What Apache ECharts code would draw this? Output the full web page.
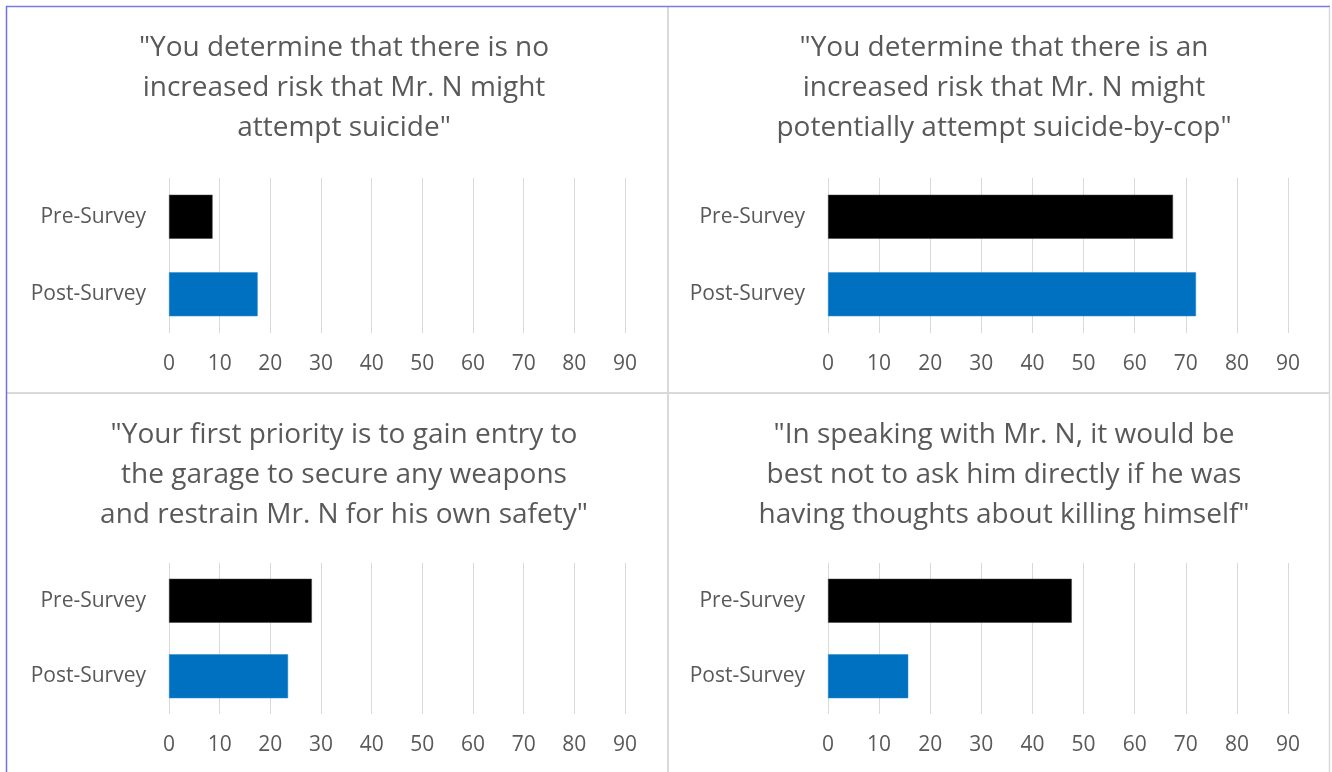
<!DOCTYPE html>
<html>
<head>
<meta charset="utf-8">
<script src="https://cdn.jsdelivr.net/npm/echarts@6/dist/echarts.min.js"></script>
<style>
html,body{margin:0;padding:0;background:#fff;}
#c{width:1332px;height:772px;}
</style>
</head>
<body>
<div id="c"></div>
<script>
const categories = ["Pre-Survey", "Post-Survey"];
const titles = [
  "\"You determine that there is no\nincreased risk that Mr. N might\nattempt suicide\"",
  "\"You determine that there is an\nincreased risk that Mr. N might\npotentially attempt suicide-by-cop\"",
  "\"Your first priority is to gain entry to\nthe garage to secure any weapons\nand restrain Mr. N for his own safety\"",
  "\"In speaking with Mr. N, it would be\nbest not to ask him directly if he was\nhaving thoughts about killing himself\""
];
const preValues = [8.6, 67.5, 28.2, 47.7];
const postValues = [17.5, 72, 23.5, 15.7];
const axisMax = 90;
const axisStep = 10;
const barColors = ["#000000", "#0070C0"];

const panels = [
  {left: 169, top: 178, width: 456, height: 155, cx: 339, ty: 23},
  {left: 828, top: 178, width: 460, height: 155, cx: 999, ty: 23},
  {left: 169, top: 563, width: 456, height: 151, cx: 339, ty: 410},
  {left: 828, top: 563, width: 460, height: 151, cx: 999, ty: 410}
];
const textColor = "#595959";
const font = "'Open Sans', Lato, sans-serif";

const grid = [], xAxis = [], yAxis = [], series = [], title = [];
panels.forEach((p, i) => {
  grid.push({left: p.left, top: p.top, width: p.width, height: p.height, containLabel: false});
  title.push({
    text: titles[i], left: p.cx, top: p.ty, textAlign: 'center',
    textStyle: {fontFamily: font, fontSize: 28, fontWeight: 'normal', color: textColor, lineHeight: 40}
  });
  xAxis.push({
    type: 'value', gridIndex: i, min: 0, max: axisMax, interval: axisStep,
    axisLine: {show: false}, axisTick: {show: false},
    splitLine: {show: true, lineStyle: {color: '#d9d9d9', width: 1}},
    axisLabel: {color: textColor, fontFamily: font, fontSize: 21, margin: 21}
  });
  yAxis.push({
    type: 'category', gridIndex: i, data: categories, inverse: true,
    axisLine: {show: false}, axisTick: {show: false},
    axisLabel: {color: textColor, fontFamily: font, fontSize: 21, margin: 23}
  });
  series.push({
    type: 'bar', xAxisIndex: i, yAxisIndex: i, barWidth: 44,
    data: [
      {value: preValues[i], itemStyle: {color: barColors[0], borderColor: '#404040', borderWidth: 0.5}},
      {value: postValues[i], itemStyle: {color: barColors[1], borderColor: '#2a8ad0', borderWidth: 0.5}}
    ],
    silent: true
  });
});

const chart = echarts.init(document.getElementById('c'), null, {renderer: 'canvas'});
chart.setOption({
  animation: false,
  backgroundColor: '#ffffff',
  title, grid, xAxis, yAxis, series,
  graphic: [
    {type: 'line', shape: {x1: 668, y1: 7, x2: 668, y2: 772}, style: {stroke: '#d9d9d9', lineWidth: 2}},
    {type: 'line', shape: {x1: 7, y1: 393, x2: 1329, y2: 393}, style: {stroke: '#d9d9d9', lineWidth: 2}},
    {type: 'line', shape: {x1: 6, y1: 6.5, x2: 1330, y2: 6.5}, style: {stroke: '#7b7bd9', lineWidth: 1.5}},
    {type: 'line', shape: {x1: 6.5, y1: 6, x2: 6.5, y2: 772}, style: {stroke: '#6f6fe0', lineWidth: 1.5}},
    {type: 'line', shape: {x1: 1329.5, y1: 7, x2: 1329.5, y2: 772}, style: {stroke: '#d9d9d9', lineWidth: 1.5}}
  ]
});
</script>
</body>
</html>
